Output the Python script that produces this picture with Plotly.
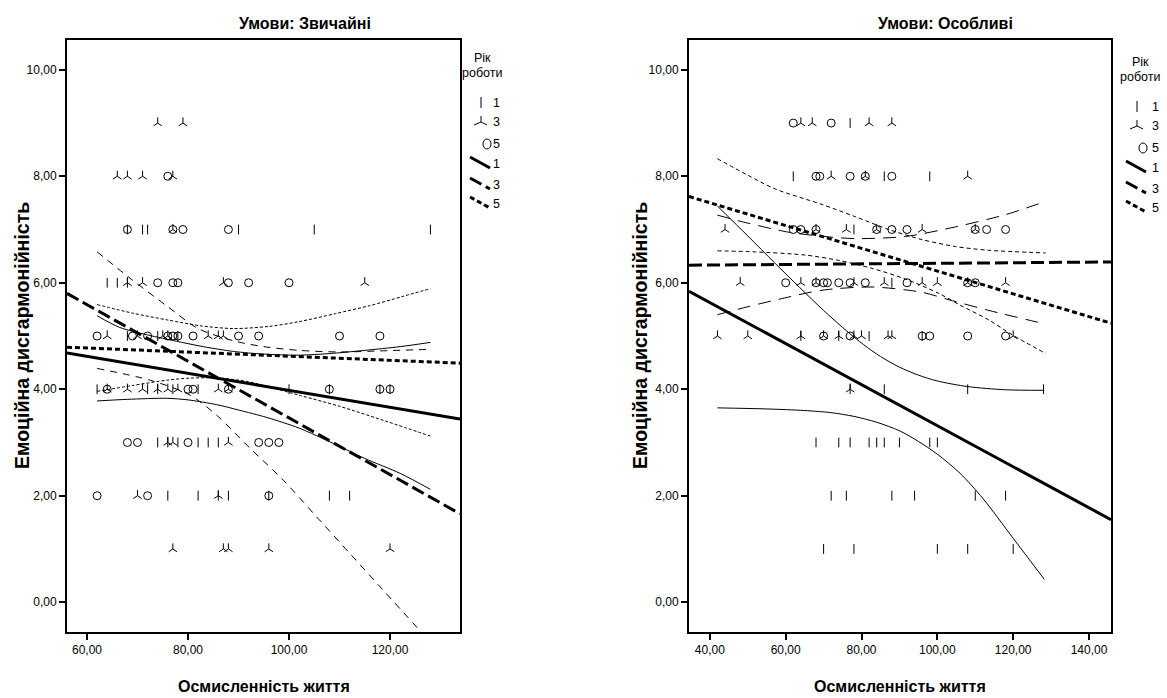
import plotly.graph_objects as go

# ------------------------------------------------------------------ data
TITLES = ["Умови: Звичайні", "Умови: Особливі"]
X_TITLE = "Осмисленність життя"
Y_TITLE = "Емоційна дисгармонійність"
LEGEND_TITLE = ["Рік", "роботи"]
LEGEND_LABELS = ["1", "3", "5", "1", "3", "5"]

Y_TICKS = [0, 2, 4, 6, 8, 10]
Y_TICK_TEXT = ["0,00", "2,00", "4,00", "6,00", "8,00", "10,00"]
XL_TICKS = [60, 80, 100, 120]
XL_TICK_TEXT = ["60,00", "80,00", "100,00", "120,00"]
XR_TICKS = [40, 60, 80, 100, 120, 140]
XR_TICK_TEXT = ["40,00", "60,00", "80,00", "100,00", "120,00", "140,00"]

XL_RANGE = [56.04, 133.86]
XR_RANGE = [34.5, 145.8]
Y_RANGE = [-0.56, 10.56]

# ---- left panel (Звичайні) scatter, groups 1 / 3 / 5
L1_X = [68, 71, 72, 90, 105, 128, 64, 66, 68, 68, 74, 78, 62, 72, 74, 77, 82, 100, 108, 118, 120,
        74, 76, 78, 82, 84, 86, 76, 82, 86, 88, 96, 108, 112]
L1_Y = [7, 7, 7, 7, 7, 7, 6, 6, 6, 5, 5, 5, 4, 4, 4, 4, 4, 4, 4, 4, 4,
        3, 3, 3, 3, 3, 3, 2, 2, 2, 2, 2, 2, 2]
L3_X = [74, 79, 66, 68, 71, 77, 77, 68, 71, 87, 115, 64, 70, 75, 76, 84, 86, 87,
        64, 68, 71, 74, 76, 78, 86, 88, 76, 77, 88, 70, 86, 77, 87, 88, 96, 120]
L3_Y = [9, 9, 8, 8, 8, 8, 7, 6, 6, 6, 6, 5, 5, 5, 5, 5, 5, 5,
        4, 4, 4, 4, 4, 4, 4, 4, 3, 3, 3, 2, 2, 1, 1, 1, 1, 1]
L5_X = [76, 68, 77, 79, 88, 74, 77, 78, 88, 92, 100, 62, 69, 72, 76, 77, 78, 81, 90, 94, 110, 118,
        64, 80, 81, 88, 108, 118, 120, 68, 70, 80, 94, 96, 98, 62, 72, 96]
L5_Y = [8, 7, 7, 7, 7, 6, 6, 6, 6, 6, 6, 5, 5, 5, 5, 5, 5, 5, 5, 5, 5, 5,
        4, 4, 4, 4, 4, 4, 4, 3, 3, 3, 3, 3, 3, 2, 2, 2]

# ---- right panel (Особливі) scatter
R1_X = [77, 62, 86, 98, 78, 88, 64, 74, 82, 96, 77, 86, 108, 128, 68, 74, 77, 82, 84, 86, 90, 98, 100,
        72, 76, 88, 94, 110, 118, 70, 78, 100, 108, 120]
R1_Y = [9, 8, 8, 8, 7, 6, 5, 5, 5, 5, 4, 4, 4, 4, 3, 3, 3, 3, 3, 3, 3, 3, 3,
        2, 2, 2, 2, 2, 2, 1, 1, 1, 1, 1]
R3_X = [64, 67, 82, 88, 72, 81, 108, 44, 68, 76, 84, 96, 110, 48, 64, 68, 78, 86, 96, 100, 108, 118,
        42, 50, 64, 70, 74, 78, 80, 87, 88, 120, 77]
R3_Y = [9, 9, 9, 9, 8, 8, 8, 7, 7, 7, 7, 7, 7, 6, 6, 6, 6, 6, 6, 6, 6, 6,
        5, 5, 5, 5, 5, 5, 5, 5, 5, 5, 4]
R5_X = [62, 72, 68, 69, 77, 81, 88, 62, 64, 68, 84, 88, 92, 110, 113, 118,
        60, 68, 70, 71, 74, 77, 81, 92, 108, 110, 70, 77, 96, 98, 108, 118]
R5_Y = [9, 9, 8, 8, 8, 8, 8, 7, 7, 7, 7, 7, 7, 7, 7, 7,
        6, 6, 6, 6, 6, 6, 6, 6, 6, 6, 5, 5, 5, 5, 5, 5]

# ---- fit lines (across the axis range)
FIT_L1_Y = [4.68, 3.44]
FIT_L3_Y = [5.80, 1.66]
FIT_L5_Y = [4.79, 4.49]
FIT_R1_Y = [5.84, 1.55]
FIT_R3_Y = [6.33, 6.39]
FIT_R5_Y = [7.62, 5.24]

# ---- confidence curves
CI_L1_UP_X = [62, 66.5, 72, 77.8, 83, 89, 95, 102, 108, 115, 122, 128]
CI_L1_UP_Y = [5.38, 5.16, 5.02, 4.90, 4.80, 4.71, 4.66, 4.64, 4.67, 4.73, 4.80, 4.88]
CI_L1_LO_X = [62, 68, 75.8, 80, 85.7, 90, 95.6, 102, 108.8, 115, 122, 128]
CI_L1_LO_Y = [3.78, 3.81, 3.83, 3.80, 3.71, 3.61, 3.47, 3.27, 2.98, 2.70, 2.42, 2.12]
CI_L3_UP_X = [62, 69, 76, 82, 89, 95, 102, 110, 118, 128]
CI_L3_UP_Y = [6.58, 6.05, 5.55, 5.14, 4.91, 4.80, 4.73, 4.70, 4.72, 4.75]
CI_L3_LO_X = [62, 72.5, 80.4, 85.7, 92.3, 98.9, 105.5, 112.1, 118.7, 128]
CI_L3_LO_Y = [4.39, 4.17, 3.89, 3.51, 2.89, 2.29, 1.60, 0.91, 0.22, -0.75]
CI_L5_UP_X = [62, 69, 76, 82.6, 89, 96, 102, 109.2, 116, 122.4, 128]
CI_L5_UP_Y = [5.59, 5.43, 5.30, 5.19, 5.14, 5.18, 5.27, 5.42, 5.57, 5.74, 5.89]
CI_L5_LO_X = [62, 69, 75.8, 80.5, 86, 92, 102.3, 110, 119.5, 128]
CI_L5_LO_Y = [3.96, 4.07, 4.17, 4.21, 4.21, 4.14, 3.88, 3.68, 3.39, 3.12]

CI_R1_UP_X = [42, 50, 57, 63.7, 70, 76, 80.5, 85, 90, 95, 100, 108, 118, 128.2]
CI_R1_UP_Y = [7.44, 6.88, 6.38, 5.91, 5.48, 5.10, 4.84, 4.615, 4.415, 4.265, 4.155, 4.05, 3.99, 3.98]
CI_R1_LO_X = [42, 55, 65, 72, 78, 84, 90, 95, 100, 106, 112, 120, 128.2]
CI_R1_LO_Y = [3.65, 3.63, 3.60, 3.56, 3.49, 3.38, 3.22, 3.02, 2.78, 2.42, 1.95, 1.20, 0.43]
CI_R3_UP_X = [42, 50, 60.8, 70, 78.4, 91.6, 104.8, 118, 128.2]
CI_R3_UP_Y = [7.27, 7.12, 6.95, 6.87, 6.83, 6.87, 7.05, 7.28, 7.52]
CI_R3_LO_X = [42, 50, 58.2, 69.6, 82.8, 96, 103.1, 113.6, 128.2]
CI_R3_LO_Y = [5.40, 5.55, 5.69, 5.86, 5.92, 5.82, 5.68, 5.48, 5.23]
CI_R5_UP_X = [42, 50, 57.3, 69.6, 78.4, 87.2, 96, 104.8, 113.6, 128.6]
CI_R5_UP_Y = [8.33, 8.02, 7.76, 7.47, 7.24, 7.00, 6.81, 6.68, 6.61, 6.56]
CI_R5_LO_X = [42, 52, 65.2, 74, 82.8, 91.6, 100.4, 106, 113.6, 119.8, 128.6]
CI_R5_LO_Y = [6.60, 6.58, 6.52, 6.42, 6.27, 6.07, 5.80, 5.58, 5.30, 5.02, 4.67]

# ------------------------------------------------------------------ style
W, H = 1167, 698
FONT = "Liberation Sans, Arial, sans-serif"
BLACK = "black"

MARKERS = [
    dict(symbol="line-ns", size=7, color=BLACK, line=dict(color=BLACK, width=1)),
    dict(symbol="y-up", size=7, color=BLACK, line=dict(color=BLACK, width=1)),
    dict(symbol="circle-open", size=8, color=BLACK, line=dict(color=BLACK, width=1)),
]
FIT_DASH = ["solid", "13px,5px", "5px,3px"]
CI_DASH_L = ["solid", "7px,6px", "3px,2px"]
CI_DASH_R = ["solid", "13px,8px", "4px,3px"]

# panel geometry in pixels
PL = dict(x0=67, x1=460)
PR = dict(x0=689, x1=1111)
PY0, PY1 = 40, 632


def fx(p):
    return p / W


def fy(p):
    return 1 - p / H


fig = go.Figure()


def add_panel(xa, ya, scat, fits, fit_x, cis, dashes):
    for (xs, ys), mk in zip(scat, MARKERS):
        fig.add_trace(go.Scatter(x=xs, y=ys, mode="markers", marker=mk, xaxis=xa, yaxis=ya,
                                 showlegend=False, hoverinfo="skip", cliponaxis=True))
    for k, ys in enumerate(fits):
        fig.add_trace(go.Scatter(x=fit_x, y=ys, mode="lines", xaxis=xa, yaxis=ya,
                                 line=dict(color=BLACK, width=3, dash=FIT_DASH[k]),
                                 showlegend=False, hoverinfo="skip"))
    for k, pair in enumerate(cis):
        for xs, ys in pair:
            fig.add_trace(go.Scatter(x=xs, y=ys, mode="lines", xaxis=xa, yaxis=ya,
                                     line=dict(color=BLACK, width=1, dash=dashes[k], shape="spline",
                                               smoothing=0.8),
                                     showlegend=False, hoverinfo="skip"))


add_panel("x", "y",
          [(L1_X, L1_Y), (L3_X, L3_Y), (L5_X, L5_Y)],
          [FIT_L1_Y, FIT_L3_Y, FIT_L5_Y], XL_RANGE,
          [[(CI_L1_UP_X, CI_L1_UP_Y), (CI_L1_LO_X, CI_L1_LO_Y)],
           [(CI_L3_UP_X, CI_L3_UP_Y), (CI_L3_LO_X, CI_L3_LO_Y)],
           [(CI_L5_UP_X, CI_L5_UP_Y), (CI_L5_LO_X, CI_L5_LO_Y)]], CI_DASH_L)
add_panel("x2", "y2",
          [(R1_X, R1_Y), (R3_X, R3_Y), (R5_X, R5_Y)],
          [FIT_R1_Y, FIT_R3_Y, FIT_R5_Y], XR_RANGE,
          [[(CI_R1_UP_X, CI_R1_UP_Y), (CI_R1_LO_X, CI_R1_LO_Y)],
           [(CI_R3_UP_X, CI_R3_UP_Y), (CI_R3_LO_X, CI_R3_LO_Y)],
           [(CI_R5_UP_X, CI_R5_UP_Y), (CI_R5_LO_X, CI_R5_LO_Y)]], CI_DASH_R)

axis_common = dict(showline=True, linewidth=2, linecolor=BLACK, mirror=True, showgrid=False,
                   zeroline=False, ticks="outside", ticklen=6, tickwidth=1.5, tickcolor=BLACK,
                   tickfont=dict(family=FONT, size=12, color=BLACK), fixedrange=True)

ydom = [fy(PY1), fy(PY0)]
fig.update_layout(
    width=W, height=H, margin=dict(l=0, r=0, t=0, b=0),
    paper_bgcolor="white", plot_bgcolor="white", showlegend=False,
    xaxis=dict(domain=[fx(PL["x0"]), fx(PL["x1"])], range=XL_RANGE, tickvals=XL_TICKS,
               ticktext=XL_TICK_TEXT, anchor="y", **axis_common),
    yaxis=dict(domain=ydom, range=Y_RANGE, tickvals=Y_TICKS, ticktext=Y_TICK_TEXT,
               anchor="x", **axis_common),
    xaxis2=dict(domain=[fx(PR["x0"]), fx(PR["x1"])], range=XR_RANGE, tickvals=XR_TICKS,
                ticktext=XR_TICK_TEXT, anchor="y2", **axis_common),
    yaxis2=dict(domain=ydom, range=Y_RANGE, tickvals=Y_TICKS, ticktext=Y_TICK_TEXT,
                anchor="x2", **axis_common),
)

ann = []
shapes = []
# titles
for cx, t in zip([305, 945], TITLES):
    ann.append(dict(text="<b>%s</b>" % t, x=fx(cx), y=fy(23), xref="paper", yref="paper",
                    showarrow=False, font=dict(family=FONT, size=16, color=BLACK),
                    xanchor="center", yanchor="middle"))
# axis titles
for cx in [(PL["x0"] + PL["x1"]) / 2, (PR["x0"] + PR["x1"]) / 2]:
    ann.append(dict(text="<b>%s</b>" % X_TITLE, x=fx(cx), y=fy(686), xref="paper", yref="paper",
                    showarrow=False, font=dict(family=FONT, size=16, color=BLACK),
                    xanchor="center", yanchor="middle"))
for cx in [22, 640]:
    ann.append(dict(text="<b>%s</b>" % Y_TITLE, x=fx(cx), y=fy((PY0 + PY1) / 2), xref="paper",
                    yref="paper", showarrow=False, textangle=-90,
                    font=dict(family=FONT, size=19.5, color=BLACK),
                    xanchor="center", yanchor="middle"))

# custom legends (one per panel)
LEG_POS = [dict(cx=482, sx=481, lx=491, dy=-4), dict(cx=1140, sx=1137, lx=1150, dy=0)]
ITEM_Y = [107, 126, 148, 168, 189, 208]
for lp in LEG_POS:
    d = lp["dy"]
    for ty, t in zip([62, 77], LEGEND_TITLE):
        ann.append(dict(text=t, x=fx(lp["cx"]), y=fy(ty + d), xref="paper", yref="paper",
                        showarrow=False, font=dict(family=FONT, size=12.5, color=BLACK),
                        xanchor="center", yanchor="middle"))
    for iy, lab in zip(ITEM_Y, LEGEND_LABELS):
        ann.append(dict(text=lab, x=fx(lp["lx"]), y=fy(iy + d), xref="paper", yref="paper",
                        showarrow=False, font=dict(family=FONT, size=12.5, color=BLACK),
                        xanchor="left", yanchor="middle"))
    sx = lp["sx"]
    y0 = ITEM_Y[0] + d
    shapes.append(dict(type="line", xref="paper", yref="paper", x0=fx(sx), x1=fx(sx),
                       y0=fy(y0 - 6), y1=fy(y0 + 5), line=dict(color=BLACK, width=1)))
    y1 = ITEM_Y[1] + d
    path = "M%f,%f L%f,%f M%f,%f L%f,%f M%f,%f L%f,%f" % (
        fx(sx - 7), fy(y1 + 3), fx(sx), fy(y1),
        fx(sx + 6), fy(y1 + 3), fx(sx), fy(y1),
        fx(sx), fy(y1 - 6), fx(sx), fy(y1))
    shapes.append(dict(type="path", xref="paper", yref="paper", path=path,
                       line=dict(color=BLACK, width=1)))
    y2 = ITEM_Y[2] + d
    shapes.append(dict(type="circle", xref="paper", yref="paper", x0=fx(sx + 2), x1=fx(sx + 10),
                       y0=fy(y2 - 5), y1=fy(y2 + 5), line=dict(color=BLACK, width=1)))
    for k in range(3):
        yy = ITEM_Y[3 + k] + d
        shapes.append(dict(type="line", xref="paper", yref="paper", x0=fx(sx - 11), x1=fx(sx + 9),
                           y0=fy(yy - 7), y1=fy(yy + 4),
                           line=dict(color=BLACK, width=3, dash=FIT_DASH[k])))

fig.update_layout(annotations=ann, shapes=shapes)
fig.write_html("out.html")
